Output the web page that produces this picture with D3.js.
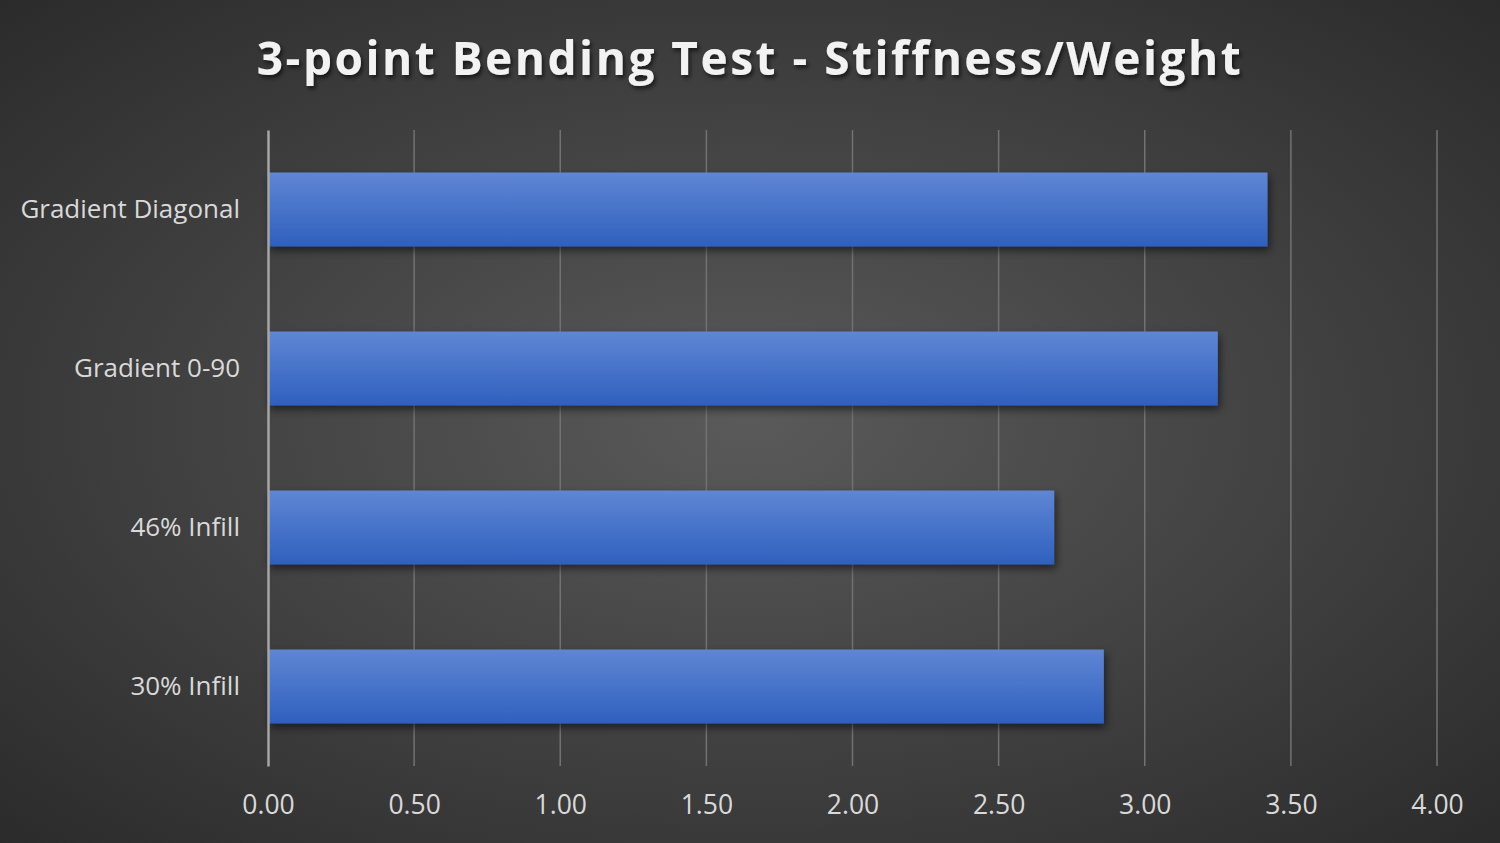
<!DOCTYPE html>
<html>
<head>
<meta charset="utf-8">
<script src="https://cdn.jsdelivr.net/npm/d3@7"></script>
<style>
  html, body { margin: 0; padding: 0; background: #404040; }
  svg { display: block; }
</style>
</head>
<body>
<script>
// chart data
var categories = ["Gradient Diagonal", "Gradient 0-90", "46% Infill", "30% Infill"];
var stiffnessPerWeight = [3.42, 3.25, 2.69, 2.86];
var xTicks = [0, 0.5, 1, 1.5, 2, 2.5, 3, 3.5, 4];
var chartTitle = "3-point Bending Test - Stiffness/Weight";

var W = 1500, H = 843;
var margin = { top: 130, right: 63, bottom: 77, left: 268 };

var svg = d3.select("body").append("svg")
    .attr("width", W)
    .attr("height", H);

var defs = svg.append("defs");

// background radial gradient
var bg = defs.append("radialGradient")
    .attr("id", "bg")
    .attr("cx", "50%").attr("cy", "50%").attr("r", "75%");
bg.append("stop").attr("offset", "0%").attr("stop-color", "#5a5a5a");
bg.append("stop").attr("offset", "100%").attr("stop-color", "#282828");

// bar gradient, lighter at top
var barGrad = defs.append("linearGradient")
    .attr("id", "barGrad")
    .attr("x1", 0).attr("y1", 0).attr("x2", 0).attr("y2", 1);
barGrad.append("stop").attr("offset", "0%").attr("stop-color", "#5f86d4");
barGrad.append("stop").attr("offset", "100%").attr("stop-color", "#2f60be");

// soft shadow under the bars
var shadow = defs.append("filter")
    .attr("id", "shadow")
    .attr("x", "-5%").attr("y", "-20%").attr("width", "110%").attr("height", "150%");
shadow.append("feDropShadow")
    .attr("dx", 2).attr("dy", 4).attr("stdDeviation", 4)
    .attr("flood-color", "#000").attr("flood-opacity", 0.55);

var titleShadow = defs.append("filter").attr("id", "titleShadow");
titleShadow.append("feDropShadow")
    .attr("dx", 2).attr("dy", 3).attr("stdDeviation", 2)
    .attr("flood-color", "#000").attr("flood-opacity", 0.6);

svg.append("rect")
    .attr("width", W).attr("height", H)
    .attr("fill", "url(#bg)");

// title
svg.append("text")
    .attr("x", W / 2)
    .attr("y", 75)
    .attr("text-anchor", "middle")
    .attr("font-family", "'Open Sans', sans-serif")
    .attr("font-weight", "bold")
    .attr("font-size", 46)
    .attr("letter-spacing", 2.5)
    .attr("fill", "#f2f2f2")
    .attr("filter", "url(#titleShadow)")
    .text(chartTitle);

// scales
var x = d3.scaleLinear()
    .domain([0, 4])
    .range([margin.left, W - margin.right]);

var y = d3.scaleBand()
    .domain(categories)
    .range([margin.top, H - margin.bottom])
    .paddingInner(0.535)
    .paddingOuter(0.2675);

// gridlines
svg.append("g")
    .selectAll("line")
    .data(xTicks.slice(1))
    .join("line")
    .attr("x1", function (d) { return x(d); })
    .attr("x2", function (d) { return x(d); })
    .attr("y1", margin.top)
    .attr("y2", H - margin.bottom)
    .attr("stroke", "#727272")
    .attr("stroke-width", 1.5);

// bars
svg.append("g")
    .selectAll("rect")
    .data(categories)
    .join("rect")
    .attr("x", x(0))
    .attr("y", function (d) { return y(d); })
    .attr("width", function (d, i) { return x(stiffnessPerWeight[i]) - x(0); })
    .attr("height", y.bandwidth())
    .attr("fill", "url(#barGrad)")
    .attr("filter", "url(#shadow)");

// x axis labels
var xAxis = svg.append("g")
    .attr("transform", "translate(0," + (H - margin.bottom) + ")")
    .call(d3.axisBottom(x)
        .tickValues(xTicks)
        .tickFormat(d3.format(".2f"))
        .tickSize(0)
        .tickPadding(29));
xAxis.select(".domain").remove();
xAxis.selectAll("text")
    .attr("font-family", "'Open Sans', sans-serif")
    .attr("font-size", 26.5)
    .attr("fill", "#d9d9d9");

// y axis
var yAxis = svg.append("g")
    .attr("transform", "translate(" + margin.left + ",0)")
    .call(d3.axisLeft(y).tickSize(0).tickPadding(28));
yAxis.select(".domain")
    .attr("stroke", "#a6a6a6")
    .attr("stroke-width", 2.5);
yAxis.selectAll("text")
    .attr("font-family", "'Open Sans', sans-serif")
    .attr("font-size", 26)
    .attr("fill", "#d9d9d9");
</script>
</body>
</html>
